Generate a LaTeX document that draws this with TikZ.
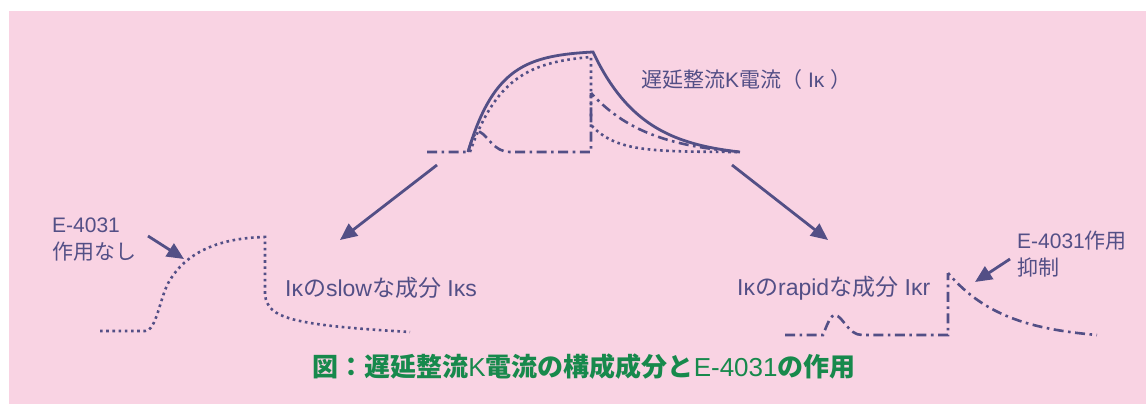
\documentclass[tikz,border=0pt]{standalone}
\usepackage{fontspec}
\setmainfont{Liberation Sans}
\newfontfamily\jp{Noto Sans CJK JP}
\usetikzlibrary{arrows.meta}
\newcommand\J[1]{{\jp #1}}
\definecolor{pinkbg}{HTML}{F9D3E3}
\definecolor{ink}{HTML}{534F86}
\definecolor{capgreen}{HTML}{17894C}
\begin{document}
\begin{tikzpicture}[x=1pt,y=-1pt,
  solidc/.style={ink,line width=2.8pt},
  dotc/.style={ink,line width=2.6pt,dash pattern=on 2.6pt off 3.6pt},
  dashdotc/.style={ink,line width=2.6pt,dash pattern=on 10pt off 4.5pt on 2.6pt off 4.5pt},
  arr/.style={ink,line width=2.8pt,-{Triangle[length=17pt,width=15pt]}},
  lbl/.style={ink,font=\fontsize{21}{27}\selectfont,inner sep=0pt,anchor=base west},
  lblb/.style={lbl,font=\fontsize{23}{27}\selectfont},
  captext/.style={capgreen,font=\fontsize{26}{30}\selectfont,inner sep=0pt,anchor=base}]
\useasboundingbox (0,0) rectangle (1146,404);
\fill[pinkbg] (9,11) rectangle (1146,404);

% ---- top: composite current
\draw[solidc] plot[domain=0:125,samples=60,smooth] ({468+\x},{152-100*(1-exp(-\x/30))/(1-exp(-125/30))})
  -- plot[domain=0:147,samples=60,smooth] ({593+\x},{152-100*(exp(-\x/50)-exp(-147/50))/(1-exp(-147/50))});
\draw[dotc] plot[domain=0:121,samples=60,smooth] ({470+\x},{152-95*(1-exp(-\x/34))/(1-exp(-121/34))})
  -- (591,125)
  -- plot[domain=0:149,samples=60,smooth] ({591+\x},{152-27*(exp(-\x/25)-exp(-149/25))/(1-exp(-149/25))});
\draw[dashdotc] (427,152) -- (468,152) .. controls (472,138) and (475,131) .. (480,132)
  .. controls (488,136) and (494,152) .. (510,152) -- (591,152) -- (591,93)
  -- plot[domain=0:149,samples=60,smooth] ({591+\x},{152-59*(exp(-\x/58)-exp(-149/58))/(1-exp(-149/58))});
\node[lbl] (ik) at (641,88) {\J{遅延整流}K\J{電流（} Iκ \J{）}};

% ---- arrows to components
\coordinate (a1s) at (437,165); \coordinate (a1e) at (340,240);
\coordinate (a2s) at (732,165); \coordinate (a2e) at (828,240);
\draw[arr] (a1s) -- (a1e);
\draw[arr] (a2s) -- (a2e);

% ---- slow component
\draw[dotc] (100,331) -- (145,331) .. controls (157,331) and (160,295) .. (170,280)
  .. controls (185,255) and (215,238) .. (265,237) -- (265,295)
  .. controls (268,318) and (290,325) .. (410,332);
\node[lblb] (ks) at (285,296) {Iκ\J{の}slow\J{な成分} Iκs};
\node[lbl,align=left] (nos) at (52,259) {E-4031\\\J{作用なし}};
\coordinate (a3s) at (148,236); \coordinate (a3e) at (184,259);
\draw[arr] (a3s) -- (a3e);

% ---- rapid component
\draw[dashdotc] (785,335) -- (823,335) .. controls (828,322) and (831,315) .. (835,315)
  .. controls (843,316) and (848,335) .. (862,335) -- (948,335) -- (948,273)
  -- plot[domain=0:149,samples=60,smooth] ({948+\x},{335-62*(exp(-\x/57)-exp(-149/57))/(1-exp(-149/57))});
\node[lblb] (kr) at (737,295) {Iκ\J{の}rapid\J{な成分} Iκr};
\node[lbl,align=left] (sup) at (1017,275) {E-4031\J{作用}\\\J{抑制}};
\coordinate (a4s) at (1010,259); \coordinate (a4e) at (975,282);
\draw[arr] (a4s) -- (a4e);

% ---- caption
\node[captext] (caption) at (584,376) {\J{\bfseries 図：遅延整流}K\J{\bfseries 電流の構成成分と}E-4031\J{\bfseries の作用}};
\end{tikzpicture}
\end{document}
